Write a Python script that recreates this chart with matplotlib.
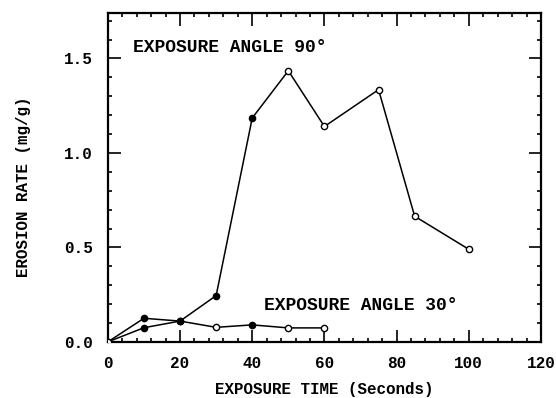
import matplotlib
matplotlib.use("Agg")
import matplotlib.pyplot as plt
from matplotlib.ticker import MultipleLocator

# exposure time (s) vs erosion rate (mg/g)
time_90 = [0, 10, 20, 30, 40, 50, 60, 75, 85, 100]
rate_90 = [0.0, 0.075, 0.11, 0.245, 1.185, 1.435, 1.14, 1.335, 0.665, 0.49]

time_30 = [0, 10, 20, 30, 40, 50, 60]
rate_30 = [0.0, 0.125, 0.11, 0.077, 0.09, 0.074, 0.074]

x_ticks = [0, 20, 40, 60, 80, 100, 120]
y_ticks = [0.0, 0.5, 1.0, 1.5]

FONT = "Liberation Mono"
LW = 1.1

fig = plt.figure(figsize=(5.56, 3.98), dpi=100)
ax = fig.add_axes([0.194, 0.141, 0.779, 0.826])

# solid dots on the early points, open markers elsewhere
filled_90 = [False, True, True, True, True, False, False, False, False, False]
filled_30 = [False, True, True, False, True, False, False]

for t, r, filled in ((time_90, rate_90, filled_90), (time_30, rate_30, filled_30)):
    ax.plot(t, r, color="black", lw=LW, zorder=2)
    for xi, yi, f in zip(t, r, filled):
        ax.plot(xi, yi, marker="o", ms=4.5, mew=1.0, mec="black",
                mfc="black" if f else "white", zorder=3)

ax.set_xlim(0, 120)
ax.set_ylim(0, 1.74)
ax.set_xticks(x_ticks)
ax.set_yticks(y_ticks)
ax.set_xticklabels([str(v) for v in x_ticks])
ax.set_yticklabels([f"{v:.1f}" for v in y_ticks])
ax.xaxis.set_minor_locator(MultipleLocator(4))
ax.yaxis.set_minor_locator(MultipleLocator(0.1))

ax.tick_params(which="both", direction="in", top=True, right=True, width=1.2)
ax.tick_params(which="major", length=9)
ax.tick_params(axis="x", which="major", pad=10)
ax.tick_params(axis="y", which="major", pad=11)
ax.tick_params(which="minor", length=3)
for lbl in ax.get_xticklabels() + ax.get_yticklabels():
    lbl.set_fontfamily(FONT)
    lbl.set_fontweight("bold")
    lbl.set_fontsize(11.5)

for sp in ax.spines.values():
    sp.set_linewidth(1.6)

ax.set_xlabel("EXPOSURE TIME (Seconds)", fontfamily=FONT, fontweight="bold",
              fontsize=11.4, labelpad=8)
ax.set_ylabel("EROSION RATE (mg/g)", fontfamily=FONT, fontweight="bold",
              fontsize=11.4)
ax.yaxis.set_label_coords(-0.178, 0.471)

ax.text(6.9, 1.56, "EXPOSURE ANGLE 90\u00b0", fontfamily=FONT, fontweight="bold",
        fontsize=13, va="center", ha="left")
ax.text(43.3, 0.195, "EXPOSURE ANGLE 30\u00b0", fontfamily=FONT, fontweight="bold",
        fontsize=13, va="center", ha="left")

fig.savefig("out.png", dpi=100)
